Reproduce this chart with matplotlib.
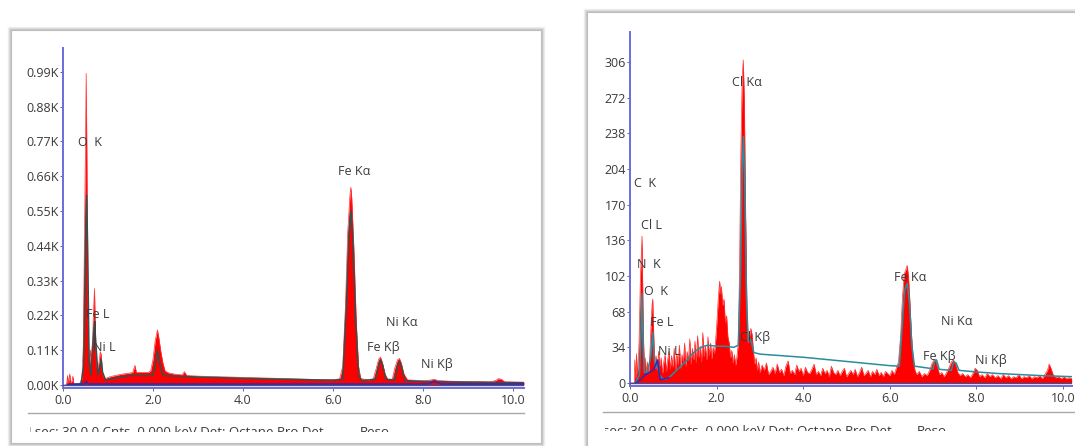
"""
Two EDS spectra side by side (counts vs. energy in keV), drawn like the
screenshots of the acquisition software.
"""

import matplotlib.pyplot as plt
from matplotlib.patches import Rectangle
from matplotlib.lines import Line2D
from matplotlib.transforms import Bbox, TransformedBbox

plt.rcParams['font.family'] = ['Open Sans', 'DejaVu Sans']

W, H = 1075, 446

# ---------------- left spectrum (counts) ----------------
LEFT_KEV = [0.00, 0.08, 0.10, 0.12, 0.15, 0.17, 0.20, 0.22, 0.24, 0.30, 0.38, 0.42,
            0.45, 0.48, 0.50, 0.515, 0.53, 0.55, 0.57, 0.59, 0.61, 0.63, 0.66, 0.68,
            0.70, 0.715, 0.73, 0.75, 0.77, 0.80, 0.83, 0.85, 0.87, 0.90, 0.95, 1.00,
            1.10, 1.20, 1.30, 1.40, 1.50, 1.55, 1.60, 1.63, 1.70, 1.80, 1.90, 1.95,
            2.00, 2.05, 2.10, 2.13, 2.17, 2.22, 2.27, 2.35, 2.50, 2.65, 2.70, 2.75,
            3.00, 3.50, 4.00, 4.50, 5.00, 5.50, 6.00, 6.15, 6.22, 6.28, 6.33, 6.38,
            6.40, 6.42, 6.47, 6.52, 6.57, 6.62, 6.80, 6.90, 6.96, 7.02, 7.06, 7.10,
            7.16, 7.22, 7.32, 7.38, 7.44, 7.48, 7.52, 7.58, 7.66, 8.00, 8.15, 8.25,
            8.35, 8.60, 9.00, 9.50, 9.62, 9.68, 9.75, 9.82, 10.25]
LEFT_CNT = [0, 0, 30, 5, 35, 8, 12, 28, 5, 4, 6, 20,
            120, 500, 760, 985, 740, 300, 120, 60, 110, 80, 150, 240,
            305, 200, 110, 60, 45, 70, 105, 95, 50, 25, 20, 24,
            28, 31, 34, 36, 38, 40, 62, 40, 40, 40, 40, 45,
            80, 140, 174, 150, 110, 70, 44, 38, 34, 32, 42, 30,
            28, 26, 24, 22, 20, 18, 17, 19, 60, 250, 480, 600,
            625, 590, 420, 200, 60, 20, 16, 20, 50, 82, 88, 72,
            35, 18, 18, 55, 80, 84, 70, 35, 16, 14, 15, 18,
            14, 12, 11, 10, 14, 20, 18, 10, 9]

LEFT_FIT_KEV = [0.10, 0.40, 0.46, 0.50, 0.525, 0.55, 0.58, 0.62, 0.66, 0.70, 0.74,
                0.78, 0.82, 0.85, 0.88, 0.95, 1.00, 1.50, 2.00, 2.05, 2.10, 2.15,
                2.22, 3.00, 4.00, 5.00, 6.00, 6.22, 6.30, 6.36, 6.40, 6.44, 6.50,
                6.57, 6.65, 6.95, 7.03, 7.06, 7.10, 7.18, 7.38, 7.45, 7.48, 7.52,
                7.60, 8.00, 9.00, 10.25]
LEFT_FIT_CNT = [0, 3, 60, 450, 600, 420, 80, 30, 120, 200, 110,
                30, 60, 80, 40, 15, 18, 30, 30, 60, 110, 70,
                30, 25, 21, 18, 15, 18, 250, 480, 550, 470, 220,
                30, 14, 18, 70, 78, 66, 18, 16, 70, 74, 62,
                14, 11, 9, 7]

LEFT_BLUE_KEV = [0.10, 0.48, 0.52, 0.56, 1.00, 8.12, 8.26, 8.40, 10.25]
LEFT_BLUE_CNT = [2, 3, 12, 3, 3, 3, 12, 3, 3]

LEFT_YTICKS = [0, 110, 220, 330, 440, 550, 660, 770, 880, 990]
XTICKS = [0, 2, 4, 6, 8, 10]

# ---------------- right spectrum (counts) ----------------
RIGHT_KEV = [0.00, 0.10, 0.11, 0.13, 0.15, 0.17, 0.19, 0.21, 0.24, 0.265, 0.277, 0.29,
             0.31, 0.33, 0.35, 0.37, 0.40, 0.43, 0.46, 0.49, 0.51, 0.525, 0.54, 0.57,
             0.60, 0.63, 0.66, 0.69, 0.72, 0.75, 0.78, 0.81, 0.84, 0.87, 0.90, 0.93,
             0.96, 0.99, 1.02, 1.05, 1.08, 1.11, 1.14, 1.17, 1.20, 1.23, 1.26, 1.29,
             1.32, 1.35, 1.38, 1.41, 1.44, 1.47, 1.50, 1.53, 1.56, 1.59, 1.62, 1.65,
             1.68, 1.71, 1.74, 1.77, 1.80, 1.83, 1.86, 1.89, 1.92, 1.95, 1.98, 2.01,
             2.04, 2.07, 2.09, 2.11, 2.14, 2.17, 2.20, 2.23, 2.26, 2.29, 2.32, 2.35,
             2.38, 2.41, 2.44, 2.47, 2.50, 2.53, 2.56, 2.59, 2.615, 2.64, 2.67, 2.70,
             2.73, 2.76, 2.79, 2.82, 2.85, 2.88, 2.91, 2.94, 2.97, 3.00, 3.05, 3.10,
             3.15, 3.20, 3.25, 3.30, 3.35, 3.40, 3.45, 3.50, 3.55, 3.60, 3.65, 3.70,
             3.75, 3.80, 3.85, 3.90, 3.95, 4.00, 4.05, 4.10, 4.15, 4.20, 4.25, 4.30,
             4.35, 4.40, 4.45, 4.50, 4.55, 4.60, 4.65, 4.70, 4.75, 4.80, 4.85, 4.90,
             4.95, 5.00, 5.05, 5.10, 5.15, 5.20, 5.25, 5.30, 5.35, 5.40, 5.45, 5.50,
             5.55, 5.60, 5.65, 5.70, 5.75, 5.80, 5.85, 5.90, 5.95, 6.00, 6.05, 6.10,
             6.15, 6.20, 6.25, 6.29, 6.33, 6.37, 6.40, 6.43, 6.46, 6.50, 6.54, 6.58,
             6.62, 6.68, 6.74, 6.80, 6.86, 6.92, 6.97, 7.02, 7.06, 7.10, 7.15, 7.20,
             7.25, 7.30, 7.36, 7.42, 7.47, 7.52, 7.57, 7.62, 7.68, 7.74, 7.80, 7.86,
             7.92, 7.97, 8.02, 8.07, 8.13, 8.19, 8.25, 8.31, 8.37, 8.43, 8.50, 8.56,
             8.62, 8.68, 8.74, 8.80, 8.86, 8.92, 8.98, 9.04, 9.10, 9.16, 9.22, 9.28,
             9.34, 9.40, 9.46, 9.52, 9.58, 9.64, 9.68, 9.72, 9.77, 9.83, 9.90, 9.96,
             10.02, 10.08, 10.14, 10.20]
RIGHT_CNT = [0, 0, 22, 4, 28, 8, 18, 40, 100, 128, 140, 100,
             45, 14, 24, 10, 20, 9, 28, 60, 75, 80, 55, 18,
             26, 12, 30, 16, 24, 9, 20, 27, 11, 22, 30, 13,
             26, 15, 33, 12, 28, 17, 36, 14, 27, 20, 38, 16,
             30, 21, 42, 18, 33, 22, 40, 19, 45, 24, 35, 20,
             48, 25, 36, 22, 44, 26, 38, 23, 34, 28, 42, 60,
             82, 97, 85, 92, 74, 80, 58, 64, 44, 38, 24, 31,
             19, 27, 17, 25, 38, 110, 220, 290, 308, 270, 160, 70,
             38, 44, 52, 46, 30, 18, 24, 12, 20, 10, 17, 12,
             19, 8, 11, 15, 9, 18, 10, 13, 7, 16, 21, 9,
             12, 8, 17, 11, 14, 7, 15, 10, 9, 13, 18, 8,
             11, 7, 14, 9, 12, 6, 16, 10, 8, 12, 7, 11,
             14, 6, 9, 12, 8, 13, 6, 10, 15, 7, 9, 12,
             6, 11, 8, 13, 7, 10, 6, 11, 9, 7, 12, 8,
             14, 20, 45, 80, 104, 108, 112, 102, 80, 45, 22, 12,
             8, 11, 6, 9, 7, 12, 18, 22, 21, 15, 8, 10,
             6, 9, 14, 20, 22, 18, 10, 7, 9, 6, 8, 5,
             9, 14, 12, 6, 8, 5, 9, 6, 8, 5, 7, 4,
             8, 5, 7, 4, 6, 5, 8, 4, 6, 5, 7, 4,
             6, 5, 7, 4, 8, 12, 18, 14, 8, 5, 6, 4,
             6, 4, 5, 4]

RIGHT_FIT_KEV = [0.12, 0.22, 0.25, 0.277, 0.30, 0.33, 0.40, 0.48, 0.525, 0.56, 0.60,
                 0.65, 0.68, 0.75, 0.85, 0.95, 1.00, 1.10, 1.20, 1.30, 1.40, 1.50,
                 1.60, 1.70, 1.80, 2.00, 2.20, 2.40, 2.50, 2.55, 2.59, 2.62, 2.65,
                 2.69, 2.73, 2.78, 2.82, 2.86, 3.00, 3.50, 4.00, 4.50, 5.00, 5.50,
                 6.00, 6.22, 6.28, 6.34, 6.40, 6.45, 6.51, 6.57, 7.00, 7.03, 7.08,
                 7.14, 7.42, 7.47, 7.53, 7.60, 8.00, 8.50, 9.00, 9.50, 10.20]
RIGHT_FIT_CNT = [0, 8, 45, 85, 40, 10, 10, 25, 48, 22, 14,
                 20, 8, 4, 4, 7, 9, 13, 17, 21, 26, 30,
                 33, 35, 36, 35, 35, 34, 36, 100, 200, 235, 190,
                 80, 40, 42, 36, 29, 27.5, 26, 24.5, 22.5, 20.5, 18.5,
                 16.5, 16, 50, 88, 95, 78, 35, 16, 13.5, 20, 22,
                 13, 12, 20, 19, 12, 10.5, 9, 8, 7, 6]

RIGHT_BLUE_KEV = [0.12, 0.25, 0.35, 0.45, 0.55, 0.60, 0.64, 0.67, 0.70, 0.80, 0.90]
RIGHT_BLUE_CNT = [0, 3, 8, 10, 13, 18, 22, 10, 3, 4, 5]

RIGHT_YTICKS = [0, 34, 68, 102, 136, 170, 204, 238, 272, 306]

STATUS = 'Lsec: 30.0 0 Cnts  0.000 keV Det: Octane Pro Det'
STATUS_R = 'sec: 30.0 0 Cnts  0.000 keV Det: Octane Pro Det'


def px_box(x0, y0, x1, y1):
    """pixel box (top-left origin) -> figure fraction [l, b, w, h]"""
    return [x0 / W, 1 - y1 / H, (x1 - x0) / W, (y1 - y0) / H]


def panel(fig, x0, y0, x1, y1):
    l, b, w, h = px_box(x0, y0, x1, y1)
    # soft shadow made of a few offset gray frames
    for off, c in [(3, '#f0f0f0'), (2, '#e0e0e0'), (1, '#c8c8c8')]:
        fig.patches.append(Rectangle((l - off / W, b - off / H), w + 2 * off / W, h + 2 * off / H,
                                     transform=fig.transFigure, fill=False,
                                     ec=c, lw=1, zorder=-2))
    fig.patches.append(Rectangle((l, b), w, h, transform=fig.transFigure,
                                 fc='white', ec='#bdbdbd', lw=0.8, zorder=-1))


def draw_spectrum(ax, kev, cnt, fit_kev, fit_cnt, fit_color, blue_kev, blue_cnt,
                  xmax, ylim, yticks, yfmt, labels):
    ax.patch.set_visible(False)
    ax.fill_between(kev, 0, cnt, color='#ff0000', lw=0, zorder=2)
    ax.plot(kev, cnt, color='#ff3030', lw=0.5, zorder=2)
    ax.plot(fit_kev, fit_cnt, color=fit_color, lw=1.1, zorder=3)
    ax.plot(blue_kev, blue_cnt, color='#2a2ab8', lw=1.1, zorder=3)
    ax.axhline(0, color='#40508a', lw=1.0, zorder=4)

    ax.set_xlim(0, xmax)
    ax.set_ylim(*ylim)
    ax.set_xticks(XTICKS)
    ax.set_xticklabels([f'{v:.1f}' for v in XTICKS])
    ax.set_yticks(yticks)
    ax.set_yticklabels([yfmt(v) for v in yticks])
    ax.tick_params(axis='both', colors='#555555', labelcolor='#3a3a3a',
                   labelsize=9, length=2, width=0.6, pad=1)
    ax.tick_params(axis='x', pad=2)
    for s in ('top', 'right'):
        ax.spines[s].set_visible(False)
    for s in ('left', 'bottom'):
        ax.spines[s].set_color('#6b6be0')
        ax.spines[s].set_linewidth(1.4)

    for text, x, y in labels:
        ax.text(x, y, text, ha='center', va='center', fontsize=9,
                color='#3a3a3a', zorder=5)


def status_line(fig, x0, x1, y_line, y_base, text, reso_x, clip):
    fig.add_artist(Line2D([x0 / W, x1 / W], [1 - y_line / H] * 2,
                          transform=fig.transFigure, color='#a8a8a8', lw=1.0))
    cx0, cy0, cx1, cy1 = clip
    box = TransformedBbox(Bbox([[cx0 / W, 1 - cy1 / H], [cx1 / W, 1 - cy0 / H]]),
                          fig.transFigure)
    for s, x in [(text, x0), ('Reso', reso_x)]:
        t = fig.text(x / W, 1 - y_base / H, s, fontsize=9.5, color='#3a3a3a',
                     va='baseline', ha='left')
        t.set_clip_box(box)
        t.set_clip_on(True)


fig = plt.figure(figsize=(W / 100, H / 100), dpi=100)

panel(fig, 11, 30, 541, 443)
panel(fig, 587, 12, 1080, 452)

# left panel: 0 keV at x=63, 45 px/keV; 0 counts at y=385, 0.3164 px/count
ax1 = fig.add_axes(px_box(63, 48, 524, 388))
draw_spectrum(ax1, LEFT_KEV, LEFT_CNT, LEFT_FIT_KEV, LEFT_FIT_CNT, '#34504f',
              LEFT_BLUE_KEV, LEFT_BLUE_CNT, 10.25, (-9.5, 1065),
              LEFT_YTICKS, lambda v: f'{v / 1000:.2f}K',
              [('O  K', 0.60, 765), ('Fe Kα', 6.47, 676), ('Fe L', 0.77, 224),
               ('Ni L', 0.91, 117), ('Ni Kα', 7.54, 196), ('Fe Kβ', 7.13, 117),
               ('Ni Kβ', 8.32, 66)])
# short marker line under the Fe L label
ax1.plot([0.72, 0.72], [140, 200], color='#404040', lw=1.2, zorder=5)

# right panel: 0 keV at x=630, 43.3 px/keV; 0 counts at y=383, 1.049 px/count
ax2 = fig.add_axes(px_box(630, 32, 1071.7, 386))
draw_spectrum(ax2, RIGHT_KEV, RIGHT_CNT, RIGHT_FIT_KEV, RIGHT_FIT_CNT, '#2a8c9c',
              RIGHT_BLUE_KEV, RIGHT_BLUE_CNT, 10.2, (-2.9, 334.6),
              RIGHT_YTICKS, lambda v: f'{v:d}',
              [('Cl Kα', 2.70, 286), ('C  K', 0.35, 190), ('Cl L', 0.49, 150),
               ('N  K', 0.44, 113), ('O  K', 0.60, 87), ('Fe L', 0.74, 58),
               ('Ni L', 0.90, 30), ('Cl Kβ', 2.88, 43), ('Fe Kα', 6.47, 101),
               ('Ni Kα', 7.55, 59), ('Fe Kβ', 7.14, 25), ('Ni Kβ', 8.34, 21)])

status_line(fig, 28, 524, 413, 436, STATUS, 360, (30, 418, 540, 432))
status_line(fig, 603, 1075, 412, 435, STATUS_R, 917, (605, 418, 1075, 431))

fig.savefig('out.png', dpi=100)
